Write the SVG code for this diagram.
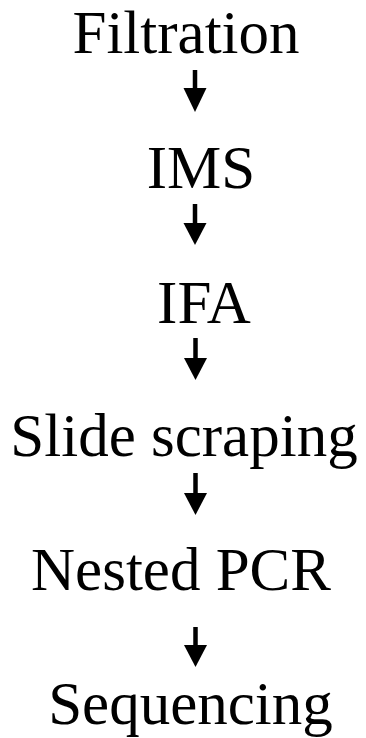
<svg xmlns="http://www.w3.org/2000/svg" width="366" height="738" viewBox="0 0 366 738">
<style>
.t{font-family:"Liberation Serif","Times New Roman",serif;font-size:61px;fill:#000;text-anchor:middle}
.s{stroke:#000;stroke-width:4.5;fill:none}
.h{fill:#000}
</style>
<rect width="366" height="738" fill="#fff"/>
<g id="filtration"><text class="t" x="186" y="53">Filtration</text></g>
<g id="ims"><text class="t" x="201" y="188">IMS</text></g>
<g id="ifa"><text class="t" x="204" y="323">IFA</text></g>
<g id="slide-scraping"><text class="t" x="184" y="456">Slide scraping</text></g>
<g id="nested-pcr"><text class="t" x="181" y="590">Nested PCR</text></g>
<g id="sequencing"><text class="t" x="190.5" y="724">Sequencing</text></g>
<g id="connectors">
<path class="s" d="M195 70V90"/><polygon class="h" points="183.5,88 206.5,88 195,112"/>
<path class="s" d="M195 204V225"/><polygon class="h" points="183.5,223 206.5,223 195,245"/>
<path class="s" d="M195.5 338V360"/><polygon class="h" points="184,358 207,358 195.5,380"/>
<path class="s" d="M195.5 473V495"/><polygon class="h" points="184,493 207,493 195.5,515"/>
<path class="s" d="M195.5 627V647"/><polygon class="h" points="184,645 207,645 195.5,667"/>
</g>
</svg>
